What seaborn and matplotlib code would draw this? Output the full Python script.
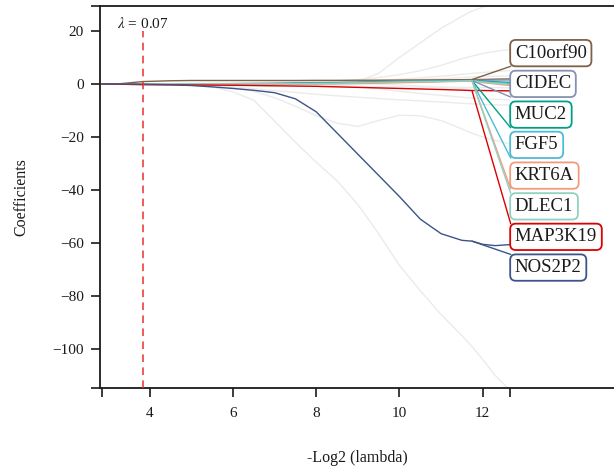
import numpy as np
import pandas as pd
import matplotlib
matplotlib.use("Agg")
import matplotlib.pyplot as plt
import matplotlib.transforms as mtransforms
import seaborn as sns

# -log2(lambda) grid on which the coefficient paths are sampled
lam = [2.85, 3.3, 3.84, 4.5, 5.0, 5.5, 6.0, 6.5, 7.0, 7.5, 8.0, 8.5,
       9.0, 9.5, 10.0, 10.5, 11.0, 11.5, 11.74, 12.0, 12.3, 12.65]

# selected genes and their coefficient paths
genes = ["C10orf90", "CIDEC", "MUC2", "FGF5", "KRT6A", "DLEC1", "MAP3K19", "NOS2P2"]
colors = ["#7E6148", "#8491B4", "#00A087", "#4DBBD5", "#F39B7F", "#91D1C2", "#DC0000", "#3C5488"]

c10orf90 = [0, 0.1, 0.9, 1.2, 1.3, 1.3, 1.3, 1.3, 1.3, 1.3, 1.35, 1.35,
            1.4, 1.4, 1.45, 1.5, 1.55, 1.6, 1.65, 1.7, 1.8, 1.9]
cidec = [0, 0, 0, 0, 0, 0.05, 0.1, 0.2, 0.3, 0.4, 0.5, 0.6,
         0.7, 0.8, 0.9, 1.0, 1.1, 1.25, 1.3, 1.4, 1.45, 1.5]
muc2 = [0, 0, 0, 0, 0, 0, 0, 0.05, 0.1, 0.2, 0.3, 0.45,
        0.6, 0.75, 0.9, 1.0, 1.1, 1.2, 1.3, 1.0, 0.8, 0.6]
fgf5 = [0, 0, 0, 0, 0, 0, 0, 0, 0, 0.05, 0.1, 0.2,
        0.35, 0.5, 0.65, 0.8, 0.95, 1.1, 1.2, 0.8, 0.5, 0.2]
krt6a = [0, 0, 0, 0, 0, 0, 0, 0, 0, 0, 0, 0.05,
         0.15, 0.3, 0.45, 0.6, 0.8, 1.0, 1.15, 0.5, 0.0, -0.6]
dlec1 = [0, 0, 0, 0, 0, 0, 0, 0, 0.05, 0.1, 0.2, 0.3,
         0.45, 0.6, 0.75, 0.9, 1.0, 1.1, 1.2, 0.7, 0.3, -0.2]
map3k19 = [0, -0.1, -0.3, -0.35, -0.4, -0.45, -0.5, -0.6, -0.7, -0.8, -0.9, -1.1,
           -1.3, -1.5, -1.7, -1.9, -2.1, -2.35, -2.5, -2.5, -2.55, -2.6]
nos2p2 = [0, 0, -0.1, -0.3, -0.6, -1.1, -1.7, -2.4, -3.3, -5.6, -10.5, -18.5,
          -26.5, -34.5, -42.5, -51.0, -56.5, -59.0, -59.3, -60.5, -61.0, -60.6]

# remaining (unselected) coefficient paths
other_1 = [0, 0, 0, 0, 0, 0, 0, 0, 0, 0, 0.1, 0.3,
           1.0, 4.0, 10.0, 15.5, 21.0, 25.5, 27.5, 29.0, 30.0, 31.0]
other_2 = [0, 0, 0, 0, 0, 0, 0, 0, 0.1, 0.3, 0.6, 1.0,
           1.6, 2.4, 3.5, 5.0, 7.0, 9.5, 10.5, 11.5, 12.3, 13.0]
other_3 = [0, 0, 0, 0, 0, 0, 0.1, 0.2, 0.3, 0.5, 0.7, 0.9,
           1.1, 1.4, 1.8, 2.3, 2.9, 3.6, 4.0, 4.3, 4.7, 5.0]
other_4 = [0, 0, 0, 0.1, 0.2, 0.3, 0.4, 0.5, 0.6, 0.7, 0.8, 0.9,
           1.0, 1.2, 1.4, 1.7, 2.0, 2.4, 2.6, 2.8, 2.9, 3.0]
other_5 = [0, 0, 0, -0.1, -0.3, -1.1, -3.0, -6.1, -14.0, -22.0, -29.5, -36.5,
           -45.5, -56.5, -68.5, -78.0, -87.0, -95.0, -99.0, -104.0, -110.0, -115.5]
other_6 = [0, 0, 0, 0, 0, -0.3, -1.2, -2.8, -5.2, -8.4, -12.0, -14.8,
           -16.0, -13.8, -11.8, -12.0, -13.8, -17.0, -18.6, -20.0, -21.3, -22.6]
other_7 = [0, 0, 0, 0, 0, 0, 0, 0, 0, 0, -0.2, -0.5,
           -1.0, -1.8, -2.8, -3.6, -4.3, -5.0, -5.3, -5.6, -5.8, -6.0]
other_8 = [0, 0, 0, -0.1, -0.3, -0.7, -1.2, -1.8, -2.5, -3.2, -3.9, -4.5,
           -5.0, -5.5, -6.0, -6.4, -6.8, -7.3, -7.5, -7.7, -7.9, -8.0]
other_9 = [0, 0, 0, 0, 0, 0, 0, 0, 0, 0, 0, 0,
           0, -0.1, -0.4, -0.8, -1.3, -1.8, -2.0, -2.3, -2.6, -3.0]
other_10 = [0, 0, -0.1, -0.2, -0.3, -0.4, -0.5, -0.6, -0.7, -0.8, -0.9, -1.0,
            -1.0, -1.1, -1.1, -1.2, -1.2, -1.3, -1.3, -1.4, -1.4, -1.5]

selected_paths = [c10orf90, cidec, muc2, fgf5, krt6a, dlec1, map3k19, nos2p2]
other_paths = [other_1, other_2, other_3, other_4, other_5,
               other_6, other_7, other_8, other_9, other_10]

# label placement (right-hand stack) and connector end on each box
label_y = [12.0, 0.4, -11.2, -22.6, -34.2, -45.8, -57.3, -68.9]
connect_to = ["bottom", "bottom", "bottom", "bottom", "bottom", "top", "top", "top"]
label_anchor_x = 11.74
lambda_min = 0.07

x_lim = (2.81, 15.15)
y_lim = (-114.7, 29.4)

# long-format tables
sel_df = pd.DataFrame({
    "lam": np.tile(lam, len(genes)),
    "coef": np.concatenate(selected_paths),
    "gene": np.repeat(genes, len(lam)),
})
oth_df = pd.DataFrame({
    "lam": np.tile(lam, len(other_paths)),
    "coef": np.concatenate(other_paths),
    "path": np.repeat(np.arange(len(other_paths)), len(lam)),
})

sns.set_theme(style="ticks")
plt.rcParams["font.family"] = ["Liberation Serif", "DejaVu Serif"]
plt.rcParams["mathtext.fontset"] = "stix"

fig = plt.figure(figsize=(6.14, 4.70), dpi=100)
ax = fig.add_axes([100 / 614, 82 / 470, 514 / 614, 382 / 470])

sns.lineplot(data=oth_df, x="lam", y="coef", units="path", estimator=None,
             color="#EBEBEB", linewidth=1.0, ax=ax, legend=False)
sns.lineplot(data=sel_df, x="lam", y="coef", hue="gene", hue_order=genes,
             palette=dict(zip(genes, colors)), estimator=None,
             linewidth=1.0, ax=ax, legend=False)

ax.set_xlim(*x_lim)
ax.set_ylim(*y_lim)

# optimal lambda marker
x_opt = -np.log2(lambda_min)
ax.plot([x_opt, x_opt], [y_lim[0], 20], color="#E8302A", lw=1.1,
        ls=(0, (5, 3.5)), zorder=3)
ax.text(x_opt, 22.8, r"$\lambda$ = 0.07", ha="center", va="center",
        fontsize=11, color="#1a1a1a")

# axes, ticks
xt = [lam[0], 4, 6, 8, 10, 12, lam[-1]]
ax.set_xticks(xt)
ax.set_xticklabels(["", "4", "6", "8", "10", "12", ""])
yt = [y_lim[0], -100, -80, -60, -40, -20, 0, 20, y_lim[1]]
ax.set_yticks(yt)
ax.set_yticklabels([""] + [f"{v:g}".replace("-", "\u2212") for v in yt[1:-1]] + [""])
ax.tick_params(axis="both", length=6.5, width=1.2, color="#1a1a1a",
               labelsize=11, labelcolor="#1a1a1a", pad=5)
ax.tick_params(axis="x", pad=7)
for side in ["left", "bottom", "top"]:
    ax.spines[side].set_linewidth(1.3)
    ax.spines[side].set_color("#1a1a1a")
ax.spines["right"].set_visible(False)
ax.set_xlabel("-Log2 (lambda)", fontsize=11.5, labelpad=22, color="#1a1a1a")
ax.set_ylabel("Coefficients", fontsize=11.5, labelpad=17, color="#1a1a1a")

# gene labels in boxes
label_trans = mtransforms.offset_copy(ax.transData, fig=fig, x=5, y=-1, units="dots")
texts = []
for gene, col, ly in zip(genes, colors, label_y):
    t = ax.text(lam[-1], ly, gene, transform=label_trans, ha="left", va="center",
                fontsize=13.5, color="#1a1a1a", zorder=6, clip_on=False,
                bbox=dict(boxstyle="round,pad=0.25,rounding_size=0.3",
                          fc="white", ec=col, lw=1.3))
    texts.append(t)

fig.canvas.draw()
renderer = fig.canvas.get_renderer()
inv = ax.transData.inverted()
for gene, col, path, t, side in zip(genes, colors, selected_paths, texts, connect_to):
    bb = t.get_bbox_patch().get_window_extent(renderer)
    py = bb.y0 if side == "bottom" else bb.y1
    cx, cy = inv.transform((bb.x0 + 0.5, py))
    ay = np.interp(label_anchor_x, lam, path)
    ax.plot([label_anchor_x, cx], [ay, cy], color=col, lw=1.0, zorder=4,
            clip_on=False)

fig.savefig("out.png", dpi=100)
